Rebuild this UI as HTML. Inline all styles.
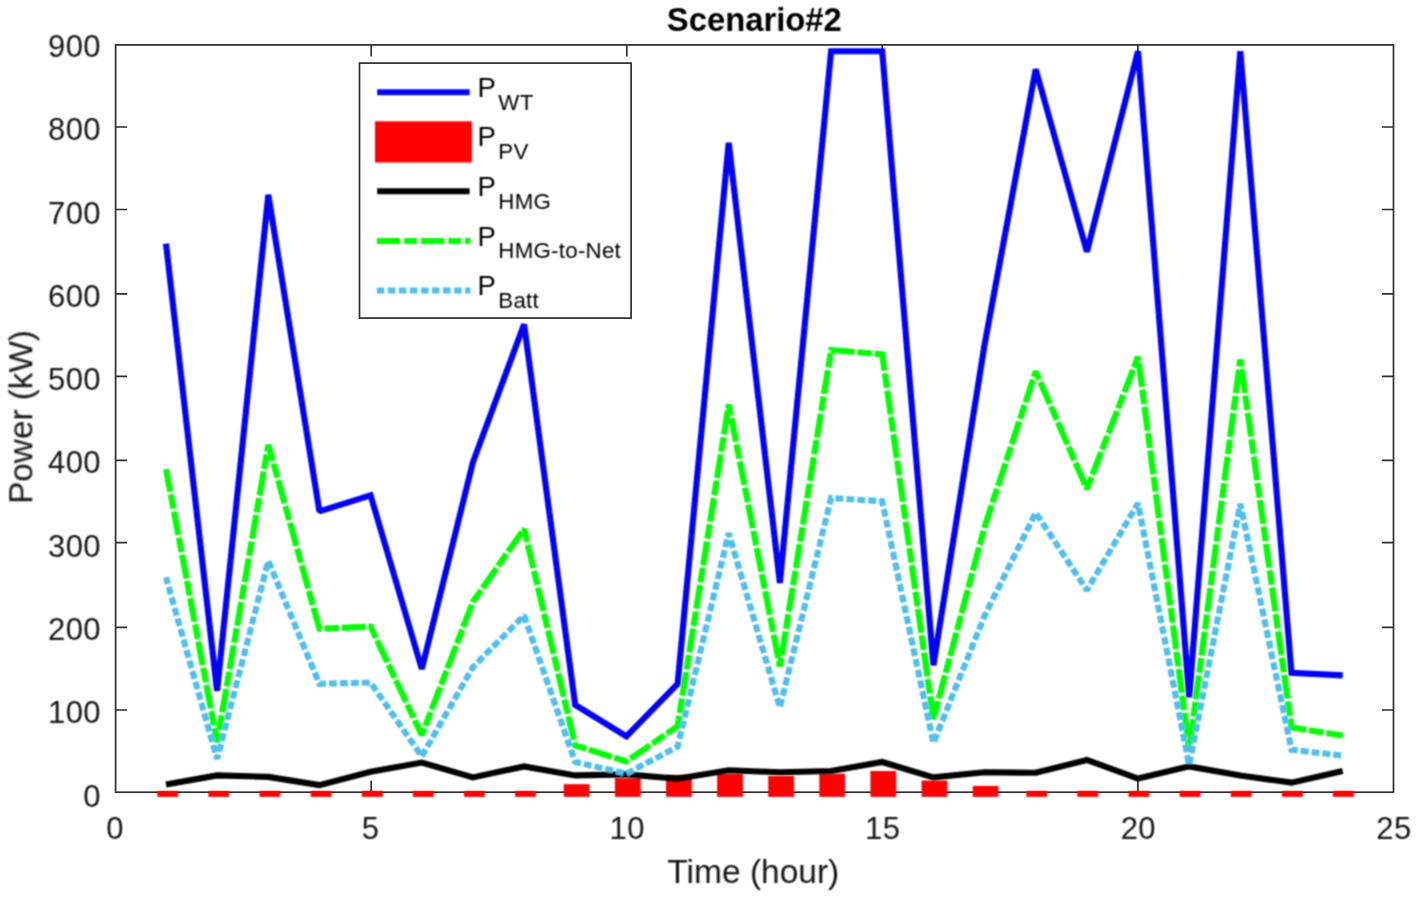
<!DOCTYPE html>
<html><head><meta charset="utf-8"><title>Scenario#2</title>
<style>
html,body{margin:0;padding:0;background:#fff;}
body{width:1416px;height:897px;overflow:hidden;}
svg{display:block;}
text{font-family:"Liberation Sans",Arial,Helvetica,sans-serif;fill:#141414;}
.tk{font-size:31px;letter-spacing:0.4px;}
.lb{font-size:32.8px;}
.lg{font-size:27.5px;fill:#000;}
.sb{font-size:22.3px;letter-spacing:0.25px;}
</style></head><body>
<svg width="1416" height="897" viewBox="0 0 1416 897">
<rect x="0" y="0" width="1416" height="897" fill="#ffffff"/>
<defs><filter id="soft" x="0" y="0" width="1416" height="897" filterUnits="userSpaceOnUse"><feConvolveMatrix order="3" kernelMatrix="1 2 1 2 4 2 1 2 1" divisor="16" edgeMode="duplicate" preserveAlpha="false"/></filter><filter id="soft2" x="0" y="0" width="1416" height="897" filterUnits="userSpaceOnUse"><feGaussianBlur stdDeviation="0.9"/></filter></defs>
<g stroke="#2e2e2e" stroke-width="1.7" fill="none">
<rect x="115.6" y="44.9" width="1277.9" height="747.3"/>
<path d="M115.6 127.0h11.5M1393.5 127.0h-11.5"/>
<path d="M115.6 209.5h11.5M1393.5 209.5h-11.5"/>
<path d="M115.6 293.9h11.5M1393.5 293.9h-11.5"/>
<path d="M115.6 376.4h11.5M1393.5 376.4h-11.5"/>
<path d="M115.6 460.4h11.5M1393.5 460.4h-11.5"/>
<path d="M115.6 542.7h11.5M1393.5 542.7h-11.5"/>
<path d="M115.6 627.4h11.5M1393.5 627.4h-11.5"/>
<path d="M115.6 710.0h11.5M1393.5 710.0h-11.5"/>
<path d="M371.2 792.2v-11.5M371.2 44.9v11.5"/>
<path d="M626.8 792.2v-11.5M626.8 44.9v11.5"/>
<path d="M882.3 792.2v-11.5M882.3 44.9v11.5"/>
<path d="M1137.9 792.2v-11.5M1137.9 44.9v11.5"/>
</g>
<g filter="url(#soft)">
<g fill="none" stroke-width="6.1" stroke-linejoin="miter" stroke-miterlimit="1.5" stroke-linecap="butt">
<polyline stroke="#0000ff" points="166.0,243.6 217.1,690.8 268.3,194.8 319.4,511.3 370.6,495.4 421.8,669.0 472.9,462.3 524.1,324.3 575.2,704.9 626.4,736.3 677.6,683.8 728.7,142.8 779.9,582.9 831.1,51.2 882.2,51.2 933.4,665.2 984.5,345.0 1035.7,69.3 1086.9,251.8 1138.0,51.2 1189.2,697.3 1240.3,51.2 1291.5,672.8 1342.7,675.4"/>
</g>
<g fill="#ff0000">
<rect x="157.3" y="791.0" width="20.8" height="5.9"/>
<rect x="208.4" y="791.0" width="20.8" height="5.9"/>
<rect x="259.5" y="791.0" width="20.8" height="5.9"/>
<rect x="310.7" y="791.0" width="20.8" height="5.9"/>
<rect x="361.8" y="791.0" width="20.8" height="5.9"/>
<rect x="412.9" y="791.0" width="20.8" height="5.9"/>
<rect x="464.0" y="791.0" width="20.8" height="5.9"/>
<rect x="515.1" y="791.0" width="20.8" height="5.9"/>
<rect x="563.7" y="784.2" width="25.8" height="12.7"/>
<rect x="614.9" y="778.1" width="25.8" height="18.8"/>
<rect x="666.0" y="775.0" width="25.8" height="21.9"/>
<rect x="717.1" y="773.6" width="25.8" height="23.3"/>
<rect x="768.2" y="776.0" width="25.8" height="20.9"/>
<rect x="819.3" y="773.6" width="25.8" height="23.3"/>
<rect x="870.4" y="771.0" width="25.8" height="25.9"/>
<rect x="921.6" y="780.5" width="25.8" height="16.4"/>
<rect x="972.7" y="785.9" width="25.8" height="11.0"/>
<rect x="1026.3" y="791.0" width="20.8" height="5.9"/>
<rect x="1077.4" y="791.0" width="20.8" height="5.9"/>
<rect x="1128.5" y="791.0" width="20.8" height="5.9"/>
<rect x="1179.6" y="791.0" width="20.8" height="5.9"/>
<rect x="1230.8" y="791.0" width="20.8" height="5.9"/>
<rect x="1281.9" y="791.0" width="20.8" height="5.9"/>
<rect x="1333.0" y="791.0" width="20.8" height="5.9"/>
</g>
</g>
<g filter="url(#soft)">
<g fill="none" stroke-width="6.1" stroke-linejoin="miter" stroke-miterlimit="1.5" stroke-linecap="butt">
<polyline stroke="#000000" points="166.0,784.4 217.1,775.4 268.3,776.9 319.4,785.1 370.6,771.8 421.8,762.6 472.9,777.4 524.1,766.4 575.2,775.4 626.4,774.4 677.6,778.7 728.7,770.3 779.9,772.3 831.1,771.0 882.2,762.0 933.4,777.4 984.5,772.3 1035.7,772.8 1086.9,760.0 1138.0,778.5 1189.2,766.4 1240.3,775.6 1291.5,782.6 1342.7,771.0"/>
<polyline stroke="#00ff00" stroke-dasharray="24 2.7 14.7 2.7" stroke-dashoffset="1.1" points="166.0,469.2 217.1,742.1 268.3,444.7 319.4,628.7 370.6,626.7 421.8,735.2 472.9,601.8 524.1,529.0 575.2,745.4 626.4,761.5 677.6,726.2 728.7,404.6 779.9,666.5 831.1,350.0 882.2,354.4 933.4,719.0 984.5,527.0 1035.7,371.4 1086.9,489.0 1138.0,356.9 1189.2,749.8 1240.3,359.3 1291.5,727.4 1342.7,735.6"/>
<polyline stroke="#4dbeee" stroke-dasharray="7.8 3.15" stroke-dashoffset="1.1" points="166.0,577.4 217.1,758.8 268.3,561.0 319.4,683.8 370.6,682.6 421.8,756.3 472.9,667.2 524.1,615.5 575.2,762.0 626.4,773.6 677.6,746.7 728.7,533.2 779.9,707.5 831.1,498.0 882.2,501.3 933.4,743.0 984.5,616.0 1035.7,512.7 1086.9,590.2 1138.0,503.3 1189.2,765.0 1240.3,503.8 1291.5,749.7 1342.7,755.6"/>
</g>
</g>
<g filter="url(#soft)">
<g class="tk" text-anchor="end">
<text x="101.0" y="56.9">900</text>
<text x="101.0" y="140.2">800</text>
<text x="101.0" y="223.5">700</text>
<text x="101.0" y="306.8">600</text>
<text x="101.0" y="390.1">500</text>
<text x="101.0" y="473.4">400</text>
<text x="101.0" y="556.7">300</text>
<text x="101.0" y="640.0">200</text>
<text x="101.0" y="723.3">100</text>
<text x="101.0" y="806.6">0</text>
</g>
<g class="tk" text-anchor="middle">
<text x="115.0" y="839">0</text>
<text x="370.6" y="839">5</text>
<text x="627.2" y="839">10</text>
<text x="882.7" y="839">15</text>
<text x="1138.3" y="839">20</text>
<text x="1393.9" y="839">25</text>
</g>
<g>
<text class="lb" text-anchor="middle" transform="translate(753.3,883.2) scale(1.022,1)">Time (hour)</text>
<text class="lb" text-anchor="middle" transform="translate(32.3,417) rotate(-90) scale(1.015,1)">Power (kW)</text>
</g>
<text class="lb" text-anchor="middle" x="754.3" y="31.3" font-weight="bold" style="fill:#000">Scenario#2</text>
</g>
<rect x="359.5" y="63.1" width="271.6" height="255" fill="#fff" stroke="#2e2e2e" stroke-width="1.7"/>
<g filter="url(#soft)">
<g fill="none" stroke-width="5.9">
<path stroke="#0000ff" d="M377.2 92.2H469.6"/>
<path stroke="#000" d="M377.2 191.3H469.6"/>
<path stroke="#00ff00" stroke-dasharray="23.4 4 12.7 4" d="M376.8 241.0H470.4"/>
<path stroke="#4dbeee" stroke-dasharray="7.4 3.65" d="M376.8 290.5H470.4"/>
</g>
<rect x="375" y="121.3" width="96.9" height="41.2" fill="#ff0000"/>
</g>
<g filter="url(#soft)">
<g>
<text class="lg" x="477.4" y="96.7">P<tspan class="sb" dx="2.6" dy="12.9">WT</tspan></text>
<text class="lg" x="477.4" y="146.3">P<tspan class="sb" dx="2.6" dy="12.9">PV</tspan></text>
<text class="lg" x="477.4" y="195.8">P<tspan class="sb" dx="2.6" dy="12.9">HMG</tspan></text>
<text class="lg" x="477.4" y="245.5">P<tspan class="sb" dx="2.6" dy="12.9">HMG-to-Net</tspan></text>
<text class="lg" x="477.4" y="295.0">P<tspan class="sb" dx="2.6" dy="12.9">Batt</tspan></text>
</g>
</g>
</svg></body></html>
